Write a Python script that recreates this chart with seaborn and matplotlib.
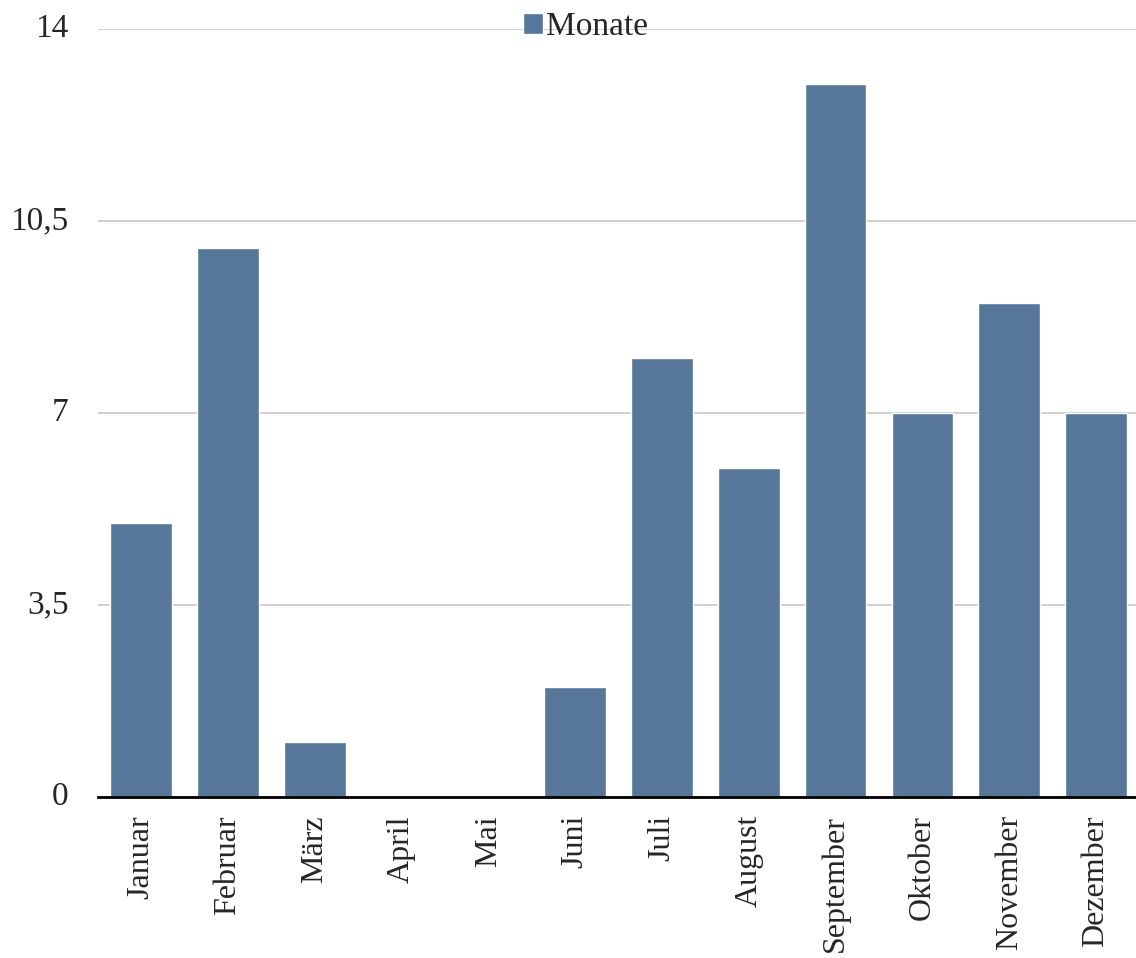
import matplotlib
matplotlib.use("Agg")
import matplotlib.pyplot as plt
import seaborn as sns
import pandas as pd

months = ["Januar", "Februar", "März", "April", "Mai", "Juni", "Juli",
          "August", "September", "Oktober", "November", "Dezember"]
counts = [5, 10, 1, 0, 0, 2, 8, 6, 13, 7, 9, 7]
y_ticks = [0, 3.5, 7, 10.5, 14]
y_tick_labels = ["0", "3,5", "7", "10,5", "14"]
series_name = "Monate"

sns.set_theme(style="white")
plt.rcParams["font.family"] = ["Liberation Serif", "DejaVu Serif"]

df = pd.DataFrame({"Monat": months, "Anzahl": counts, "Reihe": series_name})

fig = plt.figure(figsize=(11.36, 9.58), dpi=100)
ax = fig.add_axes([0.086, 0.168, 0.917, 0.802])

bar_color = "#57779A"
sns.barplot(data=df, x="Monat", y="Anzahl", hue="Reihe", palette=[bar_color],
            width=0.71, saturation=1, ax=ax, legend=True, zorder=2)

ax.set_ylim(0, 14)
ax.set_xlim(-0.5, 11.5)
ax.set_yticks(y_ticks)
ax.set_yticklabels(y_tick_labels)
ax.yaxis.grid(True, color="#C4C4C4", linewidth=1.1, zorder=0)
ax.set_axisbelow(True)
ax.set_xlabel("")
ax.set_ylabel("")

for side in ["top", "right", "left"]:
    ax.spines[side].set_visible(False)
ax.spines["bottom"].set_color("black")
ax.spines["bottom"].set_linewidth(2)

ax.tick_params(axis="y", length=0, labelsize=24, pad=21)
ax.tick_params(axis="x", length=0, labelsize=23, pad=13)
for lbl in ax.get_xticklabels():
    lbl.set_rotation(90)
    lbl.set_ha("center")
    lbl.set_va("top")
for lbl in ax.get_yticklabels():
    lbl.set_va("center")

leg = ax.legend(loc="upper center", bbox_to_anchor=(0.468, 1.04), frameon=False,
                fontsize=24, handlelength=0.6, handleheight=0.6,
                handletextpad=0.1, borderaxespad=0)

fig.savefig("out.png", dpi=100)
